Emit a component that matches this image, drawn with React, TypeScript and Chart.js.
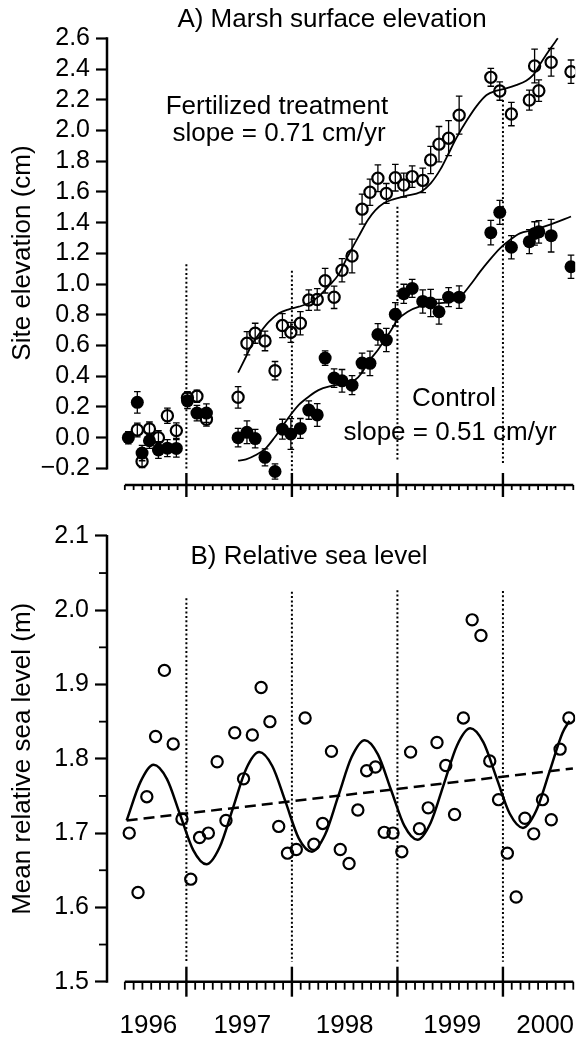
import React, { useEffect, useRef } from "react";
import { Chart, registerables } from "chart.js";

Chart.register(...registerables);

const FONT = "'Liberation Sans', Arial, Helvetica, sans-serif";
Chart.defaults.font.family = FONT;
Chart.defaults.color = "#000";

// ---------------- Panel A: Marsh surface elevation ----------------
const sampleTimesA = [
  1996.45, 1996.535, 1996.58, 1996.65, 1996.735, 1996.82, 1996.905,
  1997.01, 1997.1, 1997.19, 1997.49, 1997.574, 1997.652, 1997.745, 1997.84, 1997.91, 1997.99,
  1998.08, 1998.16, 1998.24, 1998.315, 1998.4, 1998.475, 1998.57, 1998.665, 1998.74, 1998.815, 1998.895, 1998.98,
  1999.06, 1999.14, 1999.24, 1999.315, 1999.394, 1999.485, 1999.585, 1999.885, 1999.97,
  2000.08, 2000.25, 2000.3, 2000.34, 2000.457, 2000.645,
];
const controlElev = [
  0.0, 0.23, -0.1, -0.02, -0.08, -0.068, -0.07,
  0.24, 0.16, 0.16, 0.0, 0.035, -0.006, -0.128, -0.22, 0.055, 0.024,
  0.06, 0.18, 0.148, 0.518, 0.388, 0.37, 0.342, 0.486, 0.484, 0.672, 0.636, 0.803,
  0.937, 0.972, 0.887, 0.877, 0.82, 0.915, 0.915, 1.335, 1.467,
  1.24, 1.276, 1.33, 1.34, 1.315, 1.113,
];
const controlErr = [
  0.04, 0.07, 0.05, 0.05, 0.055, 0.055, 0.057,
  0.05, 0.05, 0.06, 0.06, 0.074, 0.06, 0.055, 0.05, 0.065, 0.1,
  0.065, 0.06, 0.074, 0.047, 0.06, 0.074, 0.062, 0.065, 0.08, 0.07, 0.076, 0.076,
  0.062, 0.059, 0.076, 0.089, 0.08, 0.062, 0.073, 0.08, 0.078,
  0.076, 0.078, 0.076, 0.073, 0.106, 0.076,
];
const fertElev = [
  null, 0.05, -0.155, 0.057, 0.0, 0.143, 0.046,
  0.26, 0.27, 0.12, 0.263, 0.615, 0.68, 0.63, 0.436, 0.73, 0.686,
  0.745, 0.896, 0.9, 1.022, 0.914, 1.09, 1.183, 1.488, 1.598, 1.689, 1.59, 1.693,
  1.645, 1.7, 1.675, 1.808, 1.911, 1.95, 2.1, 2.346, 2.257,
  2.107, 2.198, 2.42, 2.259, 2.444, 2.383,
];
const fertErr = [
  null, 0.045, 0.04, 0.045, 0.045, 0.05, 0.05,
  0.04, 0.04, 0.045, 0.07, 0.076, 0.065, 0.064, 0.06, 0.078, 0.065,
  0.076, 0.067, 0.07, 0.08, 0.073, 0.076, 0.11, 0.098, 0.086, 0.087, 0.065, 0.087,
  0.078, 0.07, 0.08, 0.089, 0.115, 0.114, 0.124, 0.058, 0.06,
  0.076, 0.065, 0.11, 0.07, 0.09, 0.076,
];
const fertFitT = [
  1997.49, 1997.565, 1997.627, 1997.705, 1997.783, 1997.877, 1997.971,
  1998.065, 1998.159, 1998.252, 1998.346, 1998.44, 1998.5, 1998.56, 1998.64, 1998.72, 1998.79, 1998.87, 1998.96,
  1999.08, 1999.22, 1999.315, 1999.41, 1999.47, 1999.566, 1999.66, 1999.75, 1999.845, 1999.94,
  2000.03, 2000.125, 2000.22, 2000.285, 2000.347, 2000.44, 2000.52,
];
const fertFitV = [
  0.423, 0.527, 0.614, 0.69, 0.755, 0.81, 0.836,
  0.853, 0.875, 0.918, 0.985, 1.06, 1.14, 1.22, 1.32, 1.417, 1.48, 1.526, 1.552,
  1.574, 1.6, 1.656, 1.75, 1.83, 1.96, 2.068, 2.159, 2.231, 2.259,
  2.275, 2.296, 2.324, 2.36, 2.426, 2.524, 2.6,
];
const ctrlFitT = [
  1997.49, 1997.565, 1997.658, 1997.752, 1997.83, 1997.908, 1997.987,
  1998.065, 1998.159, 1998.252, 1998.377, 1998.503, 1998.597, 1998.66, 1998.72, 1998.815, 1998.878, 1998.94,
  1999.0, 1999.097, 1999.22, 1999.347, 1999.503, 1999.597, 1999.69, 1999.784, 1999.878, 1999.972,
  2000.066, 2000.16, 2000.285, 2000.44, 2000.645,
];
const ctrlFitV = [
  -0.15, -0.141, -0.113, -0.069, -0.004, 0.072, 0.148,
  0.213, 0.267, 0.31, 0.337, 0.354, 0.376, 0.42, 0.49, 0.571, 0.636, 0.7,
  0.766, 0.82, 0.857, 0.872, 0.886, 0.918, 0.994, 1.081, 1.161, 1.233,
  1.287, 1.33, 1.352, 1.385, 1.44,
];
const dividerYears = [1997, 1998, 1999, 2000];
const dividerTopA = [1.13, 1.087, 1.504, 2.198];
const dividerBottomA = [-0.21, -0.262, -0.145, -0.167];
const yTicksA = [-0.2, 0, 0.2, 0.4, 0.6, 0.8, 1.0, 1.2, 1.4, 1.6, 1.8, 2.0, 2.2, 2.4, 2.6];

// ---------------- Panel B: Relative sea level ----------------
const seaMonths = [
  "1996-06", "1996-07", "1996-08", "1996-09", "1996-10", "1996-11", "1996-12",
  "1997-01", "1997-02", "1997-03", "1997-04", "1997-05", "1997-06", "1997-07", "1997-08", "1997-09", "1997-10", "1997-11", "1997-12",
  "1998-01", "1998-02", "1998-03", "1998-04", "1998-05", "1998-06", "1998-07", "1998-08", "1998-09", "1998-10", "1998-11", "1998-12",
  "1999-01", "1999-02", "1999-03", "1999-04", "1999-05", "1999-06", "1999-07", "1999-08", "1999-09", "1999-10", "1999-11", "1999-12",
  "2000-01", "2000-02", "2000-03", "2000-04", "2000-05", "2000-06", "2000-07", "2000-08",
];
const seaLevel = [
  1.70, 1.62, 1.749, 1.83, 1.919, 1.82, 1.719,
  1.638, 1.694, 1.70, 1.796, 1.717, 1.835, 1.773, 1.832, 1.896, 1.85, 1.709, 1.673,
  1.678, 1.855, 1.685, 1.713, 1.81, 1.678, 1.659, 1.731, 1.784, 1.789, 1.701, 1.70,
  1.675, 1.809, 1.706, 1.734, 1.822, 1.791, 1.725, 1.855, 1.987, 1.966, 1.797, 1.745,
  1.673, 1.614, 1.72, 1.699, 1.745, 1.718, 1.813, 1.855,
];
const seasonalT = [
  1996.434, 1996.565, 1996.69, 1996.815, 1996.94,
  1997.065, 1997.19, 1997.315, 1997.44, 1997.565, 1997.69, 1997.815, 1997.94,
  1998.065, 1998.19, 1998.315, 1998.44, 1998.565, 1998.69, 1998.815, 1998.94,
  1999.065, 1999.19, 1999.315, 1999.44, 1999.565, 1999.69, 1999.815, 1999.94,
  2000.065, 2000.19, 2000.315, 2000.44, 2000.565, 2000.63,
];
const seasonalV = [
  1.717, 1.769, 1.792, 1.773, 1.725,
  1.677, 1.658, 1.681, 1.733, 1.786, 1.809, 1.79, 1.742,
  1.693, 1.675, 1.698, 1.75, 1.802, 1.825, 1.806, 1.758,
  1.71, 1.691, 1.714, 1.766, 1.818, 1.841, 1.822, 1.774,
  1.726, 1.707, 1.73, 1.782, 1.835, 1.851,
];
const trendT = [1996.434, 2000.663];
const trendV = [1.717, 1.787];
const dividerTopB = [2.016, 2.025, 2.027, 2.026];
const dividerBottomB = [1.527, 1.527, 1.527, 1.527];
const yTicksB = [1.5, 1.6, 1.7, 1.8, 1.9, 2.0, 2.1];
const yMinorB = [1.55, 1.65, 1.75, 1.85, 1.95, 2.05];
const yearLabels = ["1996", "1997", "1998", "1999", "2000"];
const yearLabelPos = [1996.64, 1997.53, 1998.5, 1999.52, 2000.4];

// ---------------- axis ranges ----------------
const X_MIN = 1996.2477;
const X_MAX = 2000.6848;
const AXIS_START = 1996 + 5 / 12; // Jun 1996
const AXIS_END = 2000 + 8 / 12; // Sep 2000

const pts = (xs: number[], ys: (number | null)[]) => xs.map((x, i) => ({ x, y: ys[i] }));
const monthToYear = (s: string) => {
  const [y, m] = s.split("-").map(Number);
  return y + (m - 0.5) / 12;
};
const dividerPts = (years: number[], tops: number[], bottoms: number[]) =>
  years.flatMap((yr, i) => [
    { x: yr, y: tops[i] },
    { x: yr, y: bottoms[i] },
    { x: yr, y: null },
  ]);
const fmt = (v: number) => {
  const s = Math.abs(v).toFixed(1);
  return v < -1e-9 ? "\u2212" + s : s;
};

// ---------------- plugins ----------------
const errorBarPlugin = {
  id: "errorBars",
  beforeDatasetsDraw(chart: any) {
    const { ctx, scales } = chart;
    const x = scales.x, y = scales.y;
    ctx.save();
    ctx.strokeStyle = "#000";
    ctx.lineWidth = 1.3;
    chart.data.datasets.forEach((ds: any) => {
      if (!ds.errors) return;
      ds.data.forEach((p: any, i: number) => {
        const e = ds.errors[i];
        if (p.y == null || e == null) return;
        const px = x.getPixelForValue(p.x);
        const y1 = y.getPixelForValue(p.y - e);
        const y2 = y.getPixelForValue(p.y + e);
        ctx.beginPath();
        ctx.moveTo(px, y1);
        ctx.lineTo(px, y2);
        ctx.moveTo(px - 3.3, y1);
        ctx.lineTo(px + 3.3, y1);
        ctx.moveTo(px - 3.3, y2);
        ctx.lineTo(px + 3.3, y2);
        ctx.stroke();
      });
    });
    ctx.restore();
  },
};

const rAxesPlugin = {
  id: "rAxes",
  afterDraw(chart: any, _args: any, opts: any) {
    const { ctx, scales, chartArea } = chart;
    const x = scales.x, y = scales.y;
    const seg = (x1: number, y1: number, x2: number, y2: number, lw: number) => {
      ctx.lineWidth = lw;
      ctx.beginPath();
      ctx.moveTo(x1, y1);
      ctx.lineTo(x2, y2);
      ctx.stroke();
    };
    ctx.save();
    ctx.strokeStyle = "#000";
    ctx.lineCap = "butt";
    const ax = chartArea.left;
    const yt = opts.yTicks as number[];
    seg(ax, y.getPixelForValue(yt[0]) + 1, ax, y.getPixelForValue(yt[yt.length - 1]) - 1, 2.5);
    (opts.yMinor || []).forEach((v: number) => {
      const py = y.getPixelForValue(v);
      seg(ax - opts.yMinorLen, py, ax, py, 1.8);
    });
    const ay = y.getPixelForValue(opts.xAxisAt);
    seg(x.getPixelForValue(AXIS_START), ay, x.getPixelForValue(AXIS_END), ay, 2.6);
    for (let yr = Math.floor(AXIS_START); yr <= Math.ceil(AXIS_END); yr++) {
      for (let m = 0; m < 12; m++) {
        const t = yr + m / 12;
        if (t < AXIS_START - 1e-6 || t > AXIS_END + 1e-6) continue;
        const px = x.getPixelForValue(t);
        if (m === 0) seg(px, ay - opts.majorUp, px, ay + opts.majorDown, 2.4);
        else seg(px, ay, px, ay + opts.minorLen, 1.8);
      }
    }
    ctx.restore();
  },
};

const textPlugin = {
  id: "panelText",
  afterDraw(chart: any, _args: any, opts: any) {
    const { ctx } = chart;
    ctx.save();
    ctx.fillStyle = "#000";
    ctx.textAlign = "center";
    ctx.textBaseline = "alphabetic";
    (opts.items || []).forEach((it: any) => {
      ctx.font = `${it.size}px ${FONT}`;
      ctx.fillText(it.text, it.x, it.y);
    });
    ctx.restore();
  },
};

const fitAxis = (width?: number, height?: number) => (s: any) => {
  if (width !== undefined) s.width = width;
  if (height !== undefined) s.height = height;
  s.paddingTop = 0;
  s.paddingBottom = 0;
  s.paddingLeft = 0;
  s.paddingRight = 0;
};

const commonOpts = {
  responsive: false,
  animation: false,
  events: [],
};

const dottedStyle = {
  showLine: true,
  spanGaps: false,
  pointRadius: 0,
  borderColor: "#000",
  borderWidth: 2,
  borderDash: [2, 2.4],
};

function configA(): any {
  return {
    type: "scatter",
    data: {
      datasets: [
        {
          label: "Fertilized treatment",
          data: pts(sampleTimesA, fertElev),
          errors: fertErr,
          pointRadius: 5.6,
          pointBorderWidth: 2.2,
          pointBackgroundColor: "rgba(0,0,0,0)",
          backgroundColor: "rgba(0,0,0,0)",
          pointBorderColor: "#000",
          borderColor: "#000",
        },
        {
          label: "Control",
          data: pts(sampleTimesA, controlElev),
          errors: controlErr,
          pointRadius: 6.5,
          pointBorderWidth: 0,
          pointBackgroundColor: "#000",
          backgroundColor: "#000",
          pointBorderColor: "#000",
          borderColor: "#000",
        },
        {
          label: "Fertilized fit",
          data: pts(fertFitT, fertFitV),
          showLine: true,
          pointRadius: 0,
          borderColor: "#000",
          borderWidth: 1.8,
          cubicInterpolationMode: "monotone",
        },
        {
          label: "Control fit",
          data: pts(ctrlFitT, ctrlFitV),
          showLine: true,
          pointRadius: 0,
          borderColor: "#000",
          borderWidth: 1.8,
          cubicInterpolationMode: "monotone",
        },
        {
          label: "Year boundaries",
          data: dividerPts(dividerYears, dividerTopA, dividerBottomA),
          ...dottedStyle,
        },
      ],
    },
    options: {
      ...commonOpts,
      layout: { padding: { left: 0, right: 3, top: 20.68, bottom: 19.7 } },
      plugins: {
        legend: { display: false },
        tooltip: { enabled: false },
        rAxes: { yTicks: yTicksA, yMinor: [], yMinorLen: 0, xAxisAt: -0.308, majorUp: 12, majorDown: 12, minorLen: 5 },
        panelText: {
          items: [
            { text: "A) Marsh surface elevation", x: 332, y: 27, size: 26 },
            { text: "Fertilized treatment", x: 277, y: 114, size: 26 },
            { text: "slope = 0.71 cm/yr", x: 279, y: 141, size: 26 },
            { text: "Control", x: 454, y: 406, size: 26 },
            { text: "slope = 0.51 cm/yr", x: 450, y: 440, size: 26 },
          ],
        },
      },
      scales: {
        x: { type: "linear", min: X_MIN, max: X_MAX, display: false },
        y: {
          type: "linear",
          position: "left",
          min: -0.31,
          max: 2.715,
          afterBuildTicks: (s: any) => {
            s.ticks = yTicksA.map((v) => ({ value: v }));
          },
          afterFit: fitAxis(107),
          ticks: {
            autoSkip: false,
            padding: 6,
            font: { size: 25, family: FONT },
            color: "#000",
            callback: (v: any) => fmt(Number(v)),
          },
          grid: { display: true, drawOnChartArea: false, drawTicks: true, tickLength: 11, tickColor: "#000", tickWidth: 2.2 },
          border: { display: false },
          title: {
            display: true,
            text: "Site elevation (cm)",
            font: { size: 26, family: FONT },
            color: "#000",
            padding: { top: 7, bottom: 0 },
          },
        },
      },
    },
    plugins: [errorBarPlugin, rAxesPlugin, textPlugin],
  };
}

function configB(): any {
  return {
    type: "scatter",
    data: {
      datasets: [
        {
          label: "Mean relative sea level",
          data: pts(seaMonths.map(monthToYear), seaLevel),
          pointRadius: 5.6,
          pointBorderWidth: 2.2,
          pointBackgroundColor: "rgba(0,0,0,0)",
          backgroundColor: "rgba(0,0,0,0)",
          pointBorderColor: "#000",
          borderColor: "#000",
        },
        {
          label: "Seasonal fit",
          data: pts(seasonalT, seasonalV),
          showLine: true,
          pointRadius: 0,
          borderColor: "#000",
          borderWidth: 2.5,
          cubicInterpolationMode: "monotone",
        },
        {
          label: "Trend",
          data: pts(trendT, trendV),
          showLine: true,
          pointRadius: 0,
          borderColor: "#000",
          borderWidth: 2.5,
          borderDash: [11, 6],
        },
        {
          label: "Year boundaries",
          data: dividerPts(dividerYears, dividerTopB, dividerBottomB),
          ...dottedStyle,
        },
      ],
    },
    options: {
      ...commonOpts,
      layout: { padding: { left: 0, right: 3, top: 8.61, bottom: 0 } },
      plugins: {
        legend: { display: false },
        tooltip: { enabled: false },
        rAxes: { yTicks: yTicksB, yMinor: yMinorB, yMinorLen: 8, xAxisAt: 1.5, majorUp: 15, majorDown: 15, minorLen: 8 },
        panelText: {
          items: [{ text: "B) Relative sea level", x: 309, y: 59, size: 26 }],
        },
      },
      scales: {
        x: {
          type: "linear",
          position: "bottom",
          min: X_MIN,
          max: X_MAX,
          afterBuildTicks: (s: any) => {
            s.ticks = yearLabelPos.map((v) => ({ value: v }));
          },
          afterFit: fitAxis(undefined, 34.01),
          ticks: {
            autoSkip: false,
            maxRotation: 0,
            minRotation: 0,
            padding: 6,
            font: { size: 26, family: FONT },
            color: "#000",
            callback: (_v: any, i: number) => yearLabels[i],
          },
          grid: { display: false, drawTicks: false },
          border: { display: false },
        },
        y: {
          type: "linear",
          position: "left",
          min: 1.47,
          max: 2.13,
          afterBuildTicks: (s: any) => {
            s.ticks = yTicksB.map((v) => ({ value: v }));
          },
          afterFit: fitAxis(107),
          ticks: {
            autoSkip: false,
            padding: 6,
            font: { size: 25, family: FONT },
            color: "#000",
            callback: (v: any) => fmt(Number(v)),
          },
          grid: { display: true, drawOnChartArea: false, drawTicks: true, tickLength: 12, tickColor: "#000", tickWidth: 2.2 },
          border: { display: false },
          title: {
            display: true,
            text: "Mean relative sea level (m)",
            font: { size: 26, family: FONT },
            color: "#000",
            padding: { top: 7, bottom: 0 },
          },
        },
      },
    },
    plugins: [rAxesPlugin, textPlugin],
  };
}

export default function App() {
  const refA = useRef<HTMLCanvasElement>(null);
  const refB = useRef<HTMLCanvasElement>(null);
  useEffect(() => {
    const a = new Chart(refA.current as HTMLCanvasElement, configA());
    const b = new Chart(refB.current as HTMLCanvasElement, configB());
    return () => {
      a.destroy();
      b.destroy();
    };
  }, []);
  return (
    <div style={{ position: "absolute", left: 0, top: 0, width: 583, height: 1038, background: "#fff" }}>
      <canvas ref={refA} width={583} height={505} style={{ display: "block", width: 583, height: 505 }} />
      <canvas ref={refB} width={583} height={533} style={{ display: "block", width: 583, height: 533 }} />
    </div>
  );
}
